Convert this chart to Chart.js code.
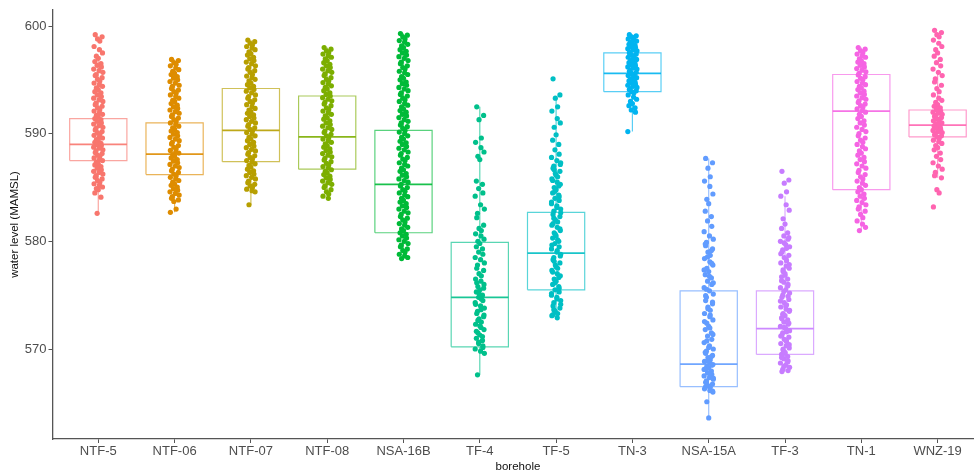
<!DOCTYPE html>
<html><head><meta charset="utf-8">
<script src="https://cdn.jsdelivr.net/npm/chart.js@4.4.1/dist/chart.umd.min.js"></script>
<style>
html,body{margin:0;padding:0;background:#fff;overflow:hidden;width:974px;height:475px}
#wrap{width:986px;height:475px;position:relative}
</style>
</head><body><div id="wrap"><canvas id="c" width="986" height="475"></canvas></div>
<script>
// ---- data ----
const categories = ["NTF-5","NTF-06","NTF-07","NTF-08","NSA-16B","TF-4","TF-5","TN-3","NSA-15A","TF-3","TN-1","WNZ-19"];
const colors = ["#F8766D","#DE8C00","#B79F00","#7CAE00","#00BA38","#00C08B","#00BFC4","#00B4F0","#619CFF","#C77CFF","#F564E3","#FF64B0"];
const yTicks = [570, 580, 590, 600];

// box statistics
const q1        = [587.5, 586.2, 587.4, 586.7, 580.8, 570.2, 575.5, 593.9, 566.5, 569.5, 584.8, 589.7];
const median    = [589.0, 588.1, 590.3, 589.7, 585.3, 574.8, 578.9, 595.6, 568.6, 571.9, 592.1, 590.8];
const q3        = [591.4, 591.0, 594.2, 593.5, 590.3, 579.9, 582.7, 597.5, 575.4, 575.4, 595.5, 592.2];
const whiskerLo = [582.6, 582.7, 583.4, 584.0, 578.4, 567.6, 572.9, 590.2, 563.6, 567.9, 581.0, 585.9];
const whiskerHi = [597.2, 596.9, 598.7, 598.0, 599.3, 592.5, 593.5, 599.2, 587.7, 584.2, 598.0, 595.9];

// observations (water level, MAMSL)
const valsNTF5 = [599.2,599.0,598.8,598.6,598.1,597.8,597.5,597.2,597.0,596.7,596.5,596.35,596.2,596.0,595.85,595.7,595.5,595.4,595.2,595.05,594.9,594.7,594.55,594.4,594.25,594.1,593.9,593.8,593.6,593.45,593.3,593.15,593.0,592.85,592.7,592.55,592.4,592.25,592.1,591.95,591.8,591.7,591.55,591.4,591.3,591.15,591.0,590.9,590.75,590.6,590.5,590.35,590.2,590.1,589.95,589.85,589.7,589.6,589.45,589.35,589.2,589.1,589.0,588.9,588.75,588.65,588.5,588.4,588.25,588.15,588.0,587.9,587.75,587.6,587.5,587.35,587.2,587.1,586.95,586.8,586.65,586.5,586.4,586.25,586.1,585.95,585.8,585.65,585.5,585.35,585.2,585.05,584.9,584.8,584.5,584.1,582.6];
const valsNTF06 = [596.9,596.8,596.6,596.45,596.3,596.1,595.95,595.8,595.6,595.5,595.3,595.15,595.0,594.85,594.7,594.5,594.4,594.2,594.05,593.9,593.75,593.6,593.45,593.3,593.1,593.0,592.8,592.65,592.5,592.35,592.2,592.05,591.9,591.75,591.6,591.45,591.3,591.15,591.0,590.85,590.7,590.55,590.4,590.25,590.1,589.95,589.8,589.65,589.5,589.35,589.2,589.05,588.9,588.75,588.6,588.45,588.3,588.2,588.05,587.9,587.75,587.6,587.45,587.3,587.15,587.0,586.85,586.7,586.55,586.4,586.25,586.1,585.95,585.8,585.65,585.5,585.35,585.2,585.05,584.9,584.75,584.6,584.45,584.3,584.15,584.0,583.85,583.7,583.0,582.7];
const valsNTF07 = [598.7,598.55,598.4,598.25,598.1,597.95,597.8,597.6,597.45,597.3,597.1,596.95,596.8,596.65,596.5,596.3,596.15,596.0,595.85,595.7,595.5,595.35,595.2,595.05,594.9,594.7,594.55,594.4,594.25,594.1,593.95,593.8,593.6,593.45,593.3,593.15,593.0,592.85,592.7,592.5,592.35,592.2,592.05,591.9,591.75,591.6,591.45,591.3,591.15,591.0,590.85,590.7,590.55,590.4,590.25,590.1,589.95,589.8,589.65,589.5,589.35,589.2,589.0,588.85,588.7,588.55,588.4,588.25,588.1,587.95,587.8,587.65,587.5,587.35,587.2,587.05,586.9,586.7,586.55,586.4,586.25,586.1,585.95,585.8,585.6,585.45,585.3,585.15,585.0,584.85,584.7,584.6,583.4];
const valsNTF08 = [598.0,597.85,597.7,597.55,597.4,597.25,597.1,596.95,596.8,596.6,596.45,596.3,596.15,596.0,595.85,595.7,595.55,595.4,595.2,595.05,594.9,594.75,594.6,594.45,594.3,594.15,594.0,593.8,593.65,593.5,593.35,593.2,593.05,592.9,592.75,592.6,592.4,592.25,592.1,591.95,591.8,591.65,591.5,591.35,591.2,591.0,590.85,590.7,590.55,590.4,590.25,590.1,589.95,589.8,589.65,589.5,589.35,589.2,589.05,588.9,588.75,588.6,588.45,588.3,588.15,588.0,587.85,587.7,587.55,587.4,587.25,587.1,586.95,586.8,586.65,586.5,586.35,586.2,586.05,585.9,585.75,585.6,585.45,585.3,585.15,585.0,584.8,584.6,584.4,584.2,584.0];
const valsNSA16B = [599.3,599.15,599.0,598.8,598.65,598.5,598.3,598.15,598.0,597.8,597.65,597.5,597.3,597.15,597.0,596.8,596.65,596.5,596.3,596.15,596.0,595.8,595.65,595.5,595.3,595.15,595.0,594.8,594.65,594.5,594.3,594.15,594.0,593.8,593.65,593.5,593.3,593.15,593.0,592.8,592.65,592.5,592.3,592.15,592.0,591.8,591.65,591.5,591.3,591.15,591.0,590.8,590.65,590.5,590.3,590.15,590.0,589.8,589.65,589.5,589.3,589.15,589.0,588.8,588.65,588.5,588.3,588.15,588.0,587.8,587.65,587.5,587.3,587.15,587.0,586.8,586.65,586.5,586.3,586.15,586.0,585.8,585.65,585.5,585.3,585.15,585.0,584.8,584.65,584.5,584.3,584.15,584.0,583.8,583.65,583.5,583.3,583.15,583.0,582.8,582.65,582.5,582.3,582.15,582.0,581.8,581.65,581.5,581.3,581.15,581.0,580.8,580.65,580.5,580.3,580.15,580.0,579.8,579.65,579.5,579.3,579.15,579.0,578.8,578.65,578.5,578.4];
const valsTF4 = [592.5,591.7,591.3,589.6,589.2,588.7,588.3,587.9,587.6,585.6,585.3,584.9,584.5,584.2,583.4,583.0,582.6,582.2,581.5,581.2,581.0,580.7,580.5,580.2,580.0,579.8,579.5,579.3,579.0,578.8,578.5,578.3,578.0,577.8,577.5,577.3,577.0,576.8,576.5,576.3,576.0,575.8,575.5,575.3,575.0,574.8,574.5,574.3,574.0,573.8,573.5,573.3,573.0,572.8,572.5,572.3,572.0,571.8,571.5,571.3,571.0,570.8,570.5,570.3,570.0,569.8,569.6,567.6,
  576.15,575.65,575.15,574.65,574.15,573.65,573.15,572.65,572.15,571.65,571.15,570.65,570.15];
const valsTF5 = [595.1,593.6,593.3,592.5,592.1,591.4,591.0,590.6,589.9,589.4,589.0,588.5,588.1,587.8,587.5,587.3,587.0,586.8,586.5,586.3,586.0,585.8,585.5,585.3,585.0,584.8,584.5,584.3,584.0,583.8,583.5,583.3,583.0,582.8,582.5,582.3,582.0,581.8,581.5,581.3,581.0,580.8,580.5,580.3,580.0,579.8,579.5,579.3,579.0,578.8,578.5,578.3,578.0,577.8,577.5,577.3,577.0,576.8,576.5,576.3,576.0,575.8,575.5,575.3,575.0,574.8,574.5,574.3,574.0,573.8,573.5,573.3,573.1,572.9,
  587.15,586.65,586.15,585.65,585.15,584.65,584.15,583.65,583.15,582.65,582.15,581.65,581.15,580.65,580.15,579.65,579.15,578.65,578.15,577.65,577.15,576.65,576.15,575.65,575.15,574.65,574.15,573.65,573.2];
const valsTN3 = [599.2,599.1,599.0,598.9,598.8,598.7,598.6,598.5,598.4,598.3,598.2,598.1,598.0,597.9,597.8,597.7,597.6,597.5,597.4,597.3,597.2,597.1,597.0,596.9,596.8,596.7,596.6,596.5,596.4,596.3,596.2,596.1,596.0,595.9,595.8,595.7,595.6,595.5,595.4,595.3,595.2,595.1,595.0,594.9,594.8,594.7,594.6,594.5,594.4,594.3,594.2,594.1,594.0,593.9,593.8,593.6,593.4,593.2,593.0,592.8,592.6,592.4,592.2,592.0,590.2];
const valsNSA15A = [587.7,587.3,586.8,586.0,585.6,585.1,584.4,583.9,583.5,582.8,582.3,581.9,581.4,580.9,580.5,580.2,579.9,579.6,579.3,579.0,578.7,578.4,578.1,577.8,577.5,577.2,576.9,576.6,576.3,576.0,575.7,575.4,575.1,574.8,574.5,574.2,573.9,573.6,573.3,573.0,572.7,572.4,572.1,571.8,571.5,571.2,570.9,570.6,570.3,570.0,569.8,569.6,569.4,569.2,569.0,568.85,568.7,568.55,568.4,568.25,568.1,567.95,567.8,567.65,567.5,567.35,567.2,567.05,566.9,566.75,566.6,566.45,566.3,566.15,566.0,565.1,563.6,
  579.75,579.15,578.55,577.95,577.35,576.75,576.15,575.55,574.95,574.35,573.75,573.15,572.55,571.95,571.35,570.75,570.15,569.7,569.3,568.9,568.5,568.1,567.7,567.3,566.9,566.5,566.1];
const valsTF3 = [586.5,585.7,585.4,584.6,584.2,583.4,582.9,582.1,581.6,581.2,580.8,580.5,580.2,580.0,579.7,579.5,579.2,579.0,578.7,578.5,578.2,578.0,577.7,577.5,577.2,577.0,576.7,576.5,576.2,576.0,575.7,575.5,575.2,575.0,574.8,574.6,574.3,574.1,573.9,573.7,573.5,573.3,573.1,572.9,572.7,572.5,572.3,572.1,571.9,571.7,571.5,571.3,571.1,570.9,570.7,570.5,570.3,570.1,569.9,569.7,569.5,569.3,569.1,568.9,568.7,568.5,568.3,568.1,567.9,
  580.35,579.85,579.35,578.85,578.35,577.85,577.35,576.85,576.35,575.85,575.35,574.9,574.45,574.0,573.6,573.2,572.8,572.4,572.0,571.6,571.2,570.8,570.4,570.0,569.6,569.2,568.8,568.4,568.0];
const valsTN1 = [598.0,597.85,597.7,597.55,597.4,597.25,597.1,596.95,596.8,596.65,596.5,596.35,596.2,596.05,595.9,595.75,595.6,595.45,595.3,595.15,595.0,594.85,594.7,594.55,594.4,594.25,594.1,593.95,593.8,593.65,593.5,593.35,593.2,593.05,592.9,592.75,592.6,592.45,592.3,592.15,592.0,591.8,591.6,591.4,591.2,591.0,590.8,590.6,590.4,590.2,590.0,589.8,589.6,589.4,589.2,589.0,588.8,588.6,588.4,588.2,588.0,587.8,587.6,587.4,587.2,587.0,586.8,586.6,586.4,586.2,586.0,585.8,585.6,585.4,585.2,585.0,584.8,584.6,584.4,584.2,584.0,583.8,583.6,583.4,583.2,583.0,582.8,582.5,582.2,581.9,581.6,581.3,581.0];
const valsWNZ19 = [599.6,599.4,599.2,599.0,598.7,598.4,598.1,597.8,597.5,597.2,596.9,596.6,596.3,596.0,595.7,595.4,595.1,594.8,594.5,594.2,593.9,593.6,593.3,593.1,592.9,592.7,592.55,592.4,592.25,592.1,592.0,591.9,591.8,591.7,591.6,591.5,591.4,591.3,591.2,591.1,591.0,590.9,590.8,590.7,590.6,590.5,590.4,590.3,590.2,590.1,590.0,589.9,589.8,589.7,589.55,589.4,589.25,589.1,588.9,588.7,588.5,588.2,587.9,587.6,587.3,587.0,586.7,586.4,586.1,585.9,584.8,584.5,583.2];

const pointValues = [valsNTF5, valsNTF06, valsNTF07, valsNTF08, valsNSA16B, valsTF4, valsTF5, valsTN3, valsNSA15A, valsTF3, valsTN1, valsWNZ19];

// ---- styling / layout ----
const jitterPattern = [-0.04,0.05,-0.01,0.02,-0.055,0.015,0.055,-0.025,0.0,-0.045,0.035,-0.015,0.04,-0.06,0.01,0.06,-0.03];
const boxHalf = 0.375;
function alpha(hex, a){
  const n = parseInt(hex.slice(1),16);
  return `rgba(${(n>>16)&255},${(n>>8)&255},${n&255},${a})`;
}

const datasets = [];
categories.forEach((cat, i) => {
  const c = i + 1;
  datasets.push({
    label: cat,
    data: pointValues[i].map((v,k)=>({x: c + jitterPattern[k % jitterPattern.length], y: v})),
    backgroundColor: colors[i],
    pointRadius: 2.6,
    pointBorderWidth: 0,
    pointHoverRadius: 2.6,
    showLine: false,
    order: 0
  });
});
categories.forEach((cat, i) => {
  const c = i + 1;
  datasets.push({
    label: cat + ' box',
    data: [
      {x:c-boxHalf,y:q1[i]},{x:c+boxHalf,y:q1[i]},{x:c+boxHalf,y:q3[i]},{x:c-boxHalf,y:q3[i]},{x:c-boxHalf,y:q1[i]},
      {x:c,y:null},{x:c,y:q3[i]},{x:c,y:whiskerHi[i]},
      {x:c,y:null},{x:c,y:q1[i]},{x:c,y:whiskerLo[i]}
    ],
    showLine: true, spanGaps: false, fill: false, tension: 0,
    borderColor: alpha(colors[i], 0.65), borderWidth: 1.2,
    pointRadius: 0, pointHoverRadius: 0,
    order: 1
  });
  datasets.push({
    label: cat + ' median',
    data: [{x:c-boxHalf,y:median[i]},{x:c+boxHalf,y:median[i]}],
    showLine: true, fill: false,
    borderColor: alpha(colors[i], 0.9), borderWidth: 1.7,
    pointRadius: 0, pointHoverRadius: 0,
    order: 1
  });
});

const font = "'Liberation Sans', Arial, sans-serif";
new Chart(document.getElementById('c'), {
  type: 'scatter',
  data: { datasets },
  options: {
    responsive: false,
    animation: false,
    events: [],
    layout: { padding: { top: 10, right: 0, left: 0, bottom: 0 } },
    plugins: { legend: { display: false }, tooltip: { enabled: false } },
    scales: {
      x: {
        type: 'linear', min: 0.4, max: 12.6,
        afterBuildTicks: s => { s.ticks = categories.map((_, i) => ({ value: i + 1 })); },
        afterFit: s => { s.height = 36; },
        ticks: {
          autoSkip: false, maxRotation: 0, padding: 1,
          color: '#4d4d4d', font: { family: font, size: 13 },
          callback: v => categories[Math.round(v) - 1]
        },
        grid: { display: true, drawOnChartArea: false, drawTicks: true, tickLength: 4, color: '#555' },
        border: { display: true, color: '#555', width: 1.3 },
        title: { display: true, text: 'borehole', color: '#111', font: { family: font, size: 11.5 }, padding: { top: 0, bottom: 1.5 } }
      },
      y: {
        type: 'linear', min: 561.64, max: 601.49,
        afterBuildTicks: s => { s.ticks = yTicks.map(v => ({ value: v })); },
        afterFit: s => { s.width = 52.5; },
        ticks: { color: '#4d4d4d', font: { family: font, size: 13 }, padding: 2, callback: v => String(v) },
        grid: { display: true, drawOnChartArea: false, drawTicks: true, tickLength: 4, color: '#555' },
        border: { display: true, color: '#555', width: 1.3 },
        title: { display: true, text: 'water level (MAMSL)', color: '#111', font: { family: font, size: 11.5 }, padding: { top: 8, bottom: 0 } }
      }
    }
  }
});
</script></body></html>
